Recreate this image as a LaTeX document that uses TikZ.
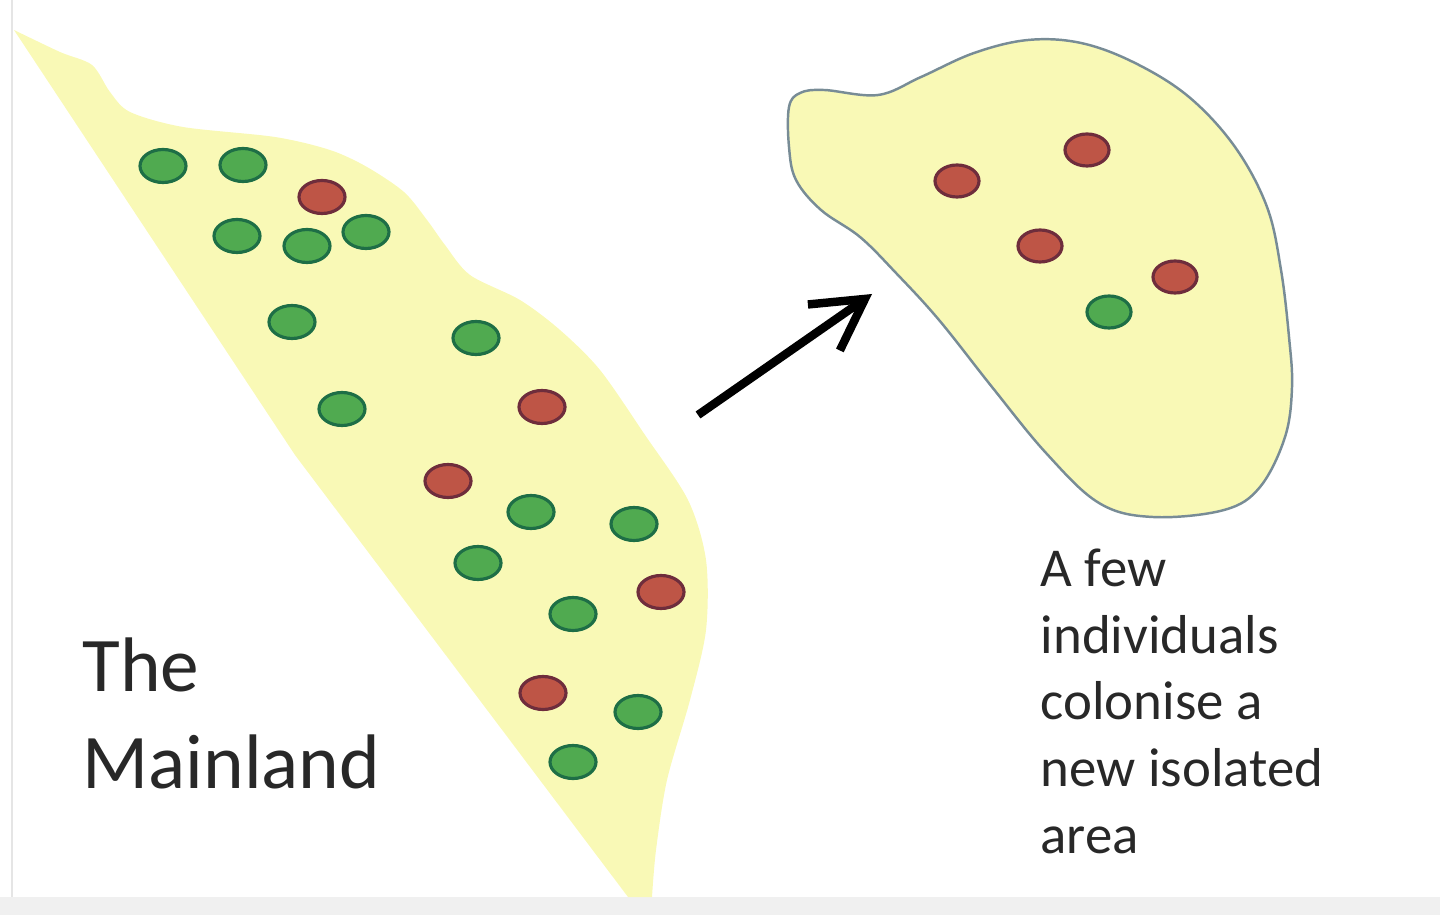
\documentclass[tikz,border=0pt]{standalone}
\usepackage{fontspec}
\setmainfont{Carlito}
\usetikzlibrary{arrows.meta}
\definecolor{land}{RGB}{249, 249, 182}
\definecolor{coast}{RGB}{120, 140, 150}
\definecolor{popgreen}{RGB}{80, 170, 80}
\definecolor{popgreenedge}{RGB}{30, 110, 70}
\definecolor{popred}{RGB}{190, 85, 70}
\definecolor{poprededge}{RGB}{110, 45, 60}
\definecolor{labelgray}{RGB}{40, 40, 40}

\begin{document}
\begin{tikzpicture}[x=0.1mm, y=-0.1mm,
    greenpop/.style={fill=popgreen, draw=popgreenedge, line width=0.9pt},
    redpop/.style={fill=popred, draw=poprededge, line width=0.9pt}]
    \useasboundingbox (0,0) rectangle (1440,915);

    % Frame
    \fill[black!6] (0,897) rectangle (1440,915);
    \draw[black!10, line width=0.6pt] (12,0) -- (12,897);

    % Mainland
    \fill[land] plot[smooth, tension=0.5] coordinates {(14,30) (60,52) (92,65) (110,92) (130,112)
        (183,127) (275,137) (330,150) (367,167) (404,192) (427,220) (445,245) (470,275) (520,300)
        (560,330) (600,370) (645,435) (688,500) (706,560) (706,630) (690,700) (667,780) (656,850)
        (652,897)} -- (628,897) -- (295,455) -- cycle;

    % Island
    \draw[coast, fill=land, line width=0.7pt] plot[smooth cycle, tension=0.6] coordinates {(789,107)
        (800,93) (824,90) (878,95) (921,77) (974,53) (1028,40) (1081,43) (1135,63) (1189,97)
        (1235,147) (1267,207) (1281,270) (1289,337) (1292,387) (1285,437) (1260,487) (1224,510)
        (1153,517) (1099,503) (1046,453) (992,387) (939,320) (896,273) (860,237) (821,210)
        (796,180) (789,147)};

    % Populations
    \foreach \x/\y in {163/166, 243/165, 237/236, 307/246, 366/232, 292/322, 476/338, 342/409,
        531/512, 634/524, 478/563, 573/614, 638/712, 573/762}
        \draw[greenpop] (\x,\y) ellipse [x radius=2.3mm, y radius=1.65mm];
    \foreach \x/\y in {322/197, 542/407, 448/481, 661/592, 543/693}
        \draw[redpop] (\x,\y) ellipse [x radius=2.3mm, y radius=1.65mm];
    \foreach \x/\y in {957/181, 1087/150, 1040/246, 1175/277}
        \draw[redpop] (\x,\y) ellipse [x radius=2.2mm, y radius=1.6mm];
    \draw[greenpop] (1109,312) ellipse [x radius=2.2mm, y radius=1.6mm];

    % Colonisation arrow
    \coordinate (launch) at (698,415);
    \coordinate (landfall) at (872,294);
    \draw[-{Straight Barb[length=5mm, width=5.6mm]}, line width=2.4pt] (launch) -- (landfall);

    % Labels
    \node[anchor=north west, inner sep=0, align=left, text=labelgray,
        font=\fontsize{22}{27.5}\selectfont] (mainland) at (82,637) {The\\Mainland};
    \node[anchor=north west, inner sep=0, align=left, text=labelgray,
        font=\fontsize{15.6}{19}\selectfont] (colonists) at (1040,548)
        {A few\\individuals\\colonise a\\new isolated\\area};
\end{tikzpicture}
\end{document}
